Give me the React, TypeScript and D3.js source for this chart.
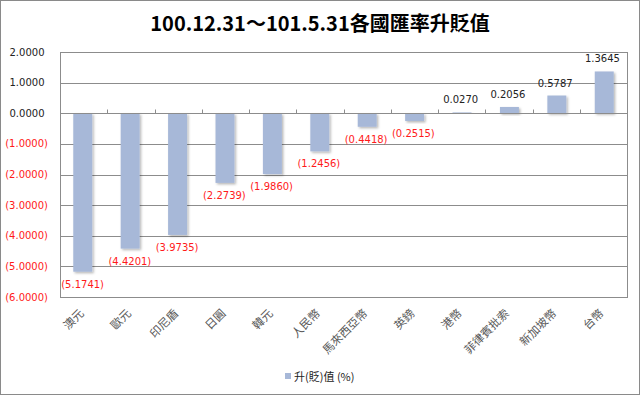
import { useEffect, useRef } from 'react';
import * as d3 from 'd3';

const categories = ['澳元', '歐元', '印尼盾', '日圓', '韓元', '人民幣', '馬來西亞幣', '英鎊', '港幣', '菲律賓批索', '新加坡幣', '台幣'];
const values = [-5.1741, -4.4201, -3.9735, -2.2739, -1.986, -1.2456, -0.4418, -0.2515, 0.027, 0.2056, 0.5787, 1.3645];
const yTicks = [2, 1, 0, -1, -2, -3, -4, -5, -6];
const title = '100.12.31～101.5.31各國匯率升貶值';
const legendLabel = '升(貶)值 (%)';

const W = 640;
const H = 395;
const plot = { left: 60, right: 627, top: 52, bottom: 297 };
const barColor = '#a7b8d8';
const red = '#ff1a1a';
const grid = '#8c8c8c';
const numFont = '"DejaVu Sans", Verdana, sans-serif';
const cjkFont = '"Noto Sans CJK TC", sans-serif';

const fmt = (v: number) => {
  const s = d3.format('.4f')(Math.abs(v));
  return v < 0 ? `(${s})` : s;
};

export default function App() {
  const svgRef = useRef<SVGSVGElement>(null);

  useEffect(() => {
    if (!svgRef.current) return;
    const svg = d3.select(svgRef.current);
    svg.selectAll('*').remove();

    const x = d3.scaleBand<string>().domain(categories).range([plot.left, plot.right]).paddingInner(0.6).paddingOuter(0.28);
    const band = d3.scaleBand<string>().domain(categories).range([plot.left, plot.right]);
    const y = d3.scaleLinear().domain([-6, 2]).range([plot.bottom, plot.top]);

    const defs = svg.append('defs');
    const f = defs.append('filter').attr('id', 'shadow').attr('x', '-30%').attr('y', '-30%').attr('width', '160%').attr('height', '160%');
    f.append('feDropShadow').attr('dx', 1.5).attr('dy', 1.5).attr('stdDeviation', 1).attr('flood-color', '#000').attr('flood-opacity', 0.28);

    // outer border
    svg.append('rect').attr('x', 0.5).attr('y', 0.5).attr('width', W - 1).attr('height', H - 1)
      .attr('fill', '#fff').attr('stroke', '#8a8a8a');

    // title
    svg.append('text').attr('x', 320).attr('y', 31).attr('text-anchor', 'middle')
      .attr('font-family', cjkFont).attr('font-weight', 700).attr('font-size', 20).attr('fill', '#000')
      .text(title);

    // gridlines
    svg.append('g').selectAll('line').data(yTicks.filter((t) => t !== 0 && t !== 2 && t !== -6)).join('line')
      .attr('x1', plot.left).attr('x2', plot.right)
      .attr('y1', (d) => Math.round(y(d)) + 0.5).attr('y2', (d) => Math.round(y(d)) + 0.5)
      .attr('stroke', grid);

    // plot border
    svg.append('rect').attr('x', plot.left + 0.5).attr('y', Math.round(plot.top) + 0.5)
      .attr('width', plot.right - plot.left).attr('height', plot.bottom - plot.top)
      .attr('fill', 'none').attr('stroke', grid);

    // y labels
    svg.append('g').selectAll('text').data(yTicks).join('text')
      .attr('x', (d) => (d < 0 ? 48 : 44.5)).attr('y', (d) => y(d)).attr('dy', '0.35em')
      .attr('text-anchor', 'end').attr('font-family', numFont).attr('font-size', 10)
      .attr('fill', (d) => (d < 0 ? red : '#222'))
      .text((d) => fmt(d));

    // bars
    svg.append('g').selectAll('rect').data(values).join('rect')
      .attr('x', (_, i) => x(categories[i])!)
      .attr('width', x.bandwidth())
      .attr('y', (d) => y(Math.max(0, d)))
      .attr('height', (d) => Math.max(1, Math.abs(y(d) - y(0))))
      .attr('fill', barColor)
      .attr('filter', 'url(#shadow)');

    // zero axis with ticks
    const y0 = Math.round(y(0)) + 0.5;
    svg.append('line').attr('x1', plot.left).attr('x2', plot.right).attr('y1', y0).attr('y2', y0).attr('stroke', grid);
    svg.append('g').selectAll('line').data(d3.range(categories.length + 1)).join('line')
      .attr('x1', (i) => Math.round(plot.left + band.step() * i) + 0.5)
      .attr('x2', (i) => Math.round(plot.left + band.step() * i) + 0.5)
      .attr('y1', y0).attr('y2', y0 - 4).attr('stroke', grid);

    // value labels
    svg.append('g').selectAll('text').data(values).join('text')
      .attr('x', (_, i) => band(categories[i])! + band.bandwidth() / 2 - 1)
      .attr('y', (d) => (d < 0 ? y(d) + 16 : y(d) - 9))
      .attr('text-anchor', 'middle').attr('font-family', numFont).attr('font-size', 10)
      .attr('fill', (d) => (d < 0 ? red : '#222'))
      .text((d) => fmt(d));

    // x labels
    svg.append('g').selectAll('text').data(categories).join('text')
      .attr('transform', (d) => `translate(${band(d)! + band.bandwidth() / 2 + 1},314) rotate(-45)`)
      .attr('text-anchor', 'end').attr('font-family', cjkFont).attr('font-size', 11.5)
      .attr('fill', '#595959')
      .text((d) => d);

    // legend
    svg.append('rect').attr('x', 285).attr('y', 373).attr('width', 6).attr('height', 6).attr('fill', barColor);
    svg.append('text').attr('x', 294).attr('y', 380.5).attr('font-family', cjkFont).attr('font-size', 11)
      .attr('fill', '#222').text(legendLabel);
  }, []);

  return <svg ref={svgRef} width={W} height={H} style={{ position: 'fixed', left: 0, top: 0 }} />;
}
